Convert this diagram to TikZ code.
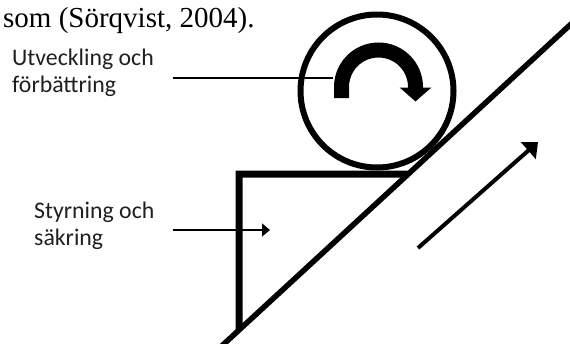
\documentclass[tikz,border=0pt]{standalone}
\usepackage{fontspec}
\setmainfont{Liberation Serif}
\newfontfamily\calibri{Carlito}
\usetikzlibrary{arrows.meta}
\begin{document}
\begin{tikzpicture}[x=1pt,y=-1pt,
  lbl/.style={anchor=base west, inner sep=0pt, font=\calibri\fontsize{23.8}{27}\selectfont, text=black!88},
  thinline/.style={line width=1.6pt},
  heavy/.style={line width=5.5pt},
]
\useasboundingbox (0,0) rectangle (570,343);
\clip (0,0) rectangle (570,343);
% title
\node[anchor=base west, inner sep=0pt, font=\fontsize{29}{34}\selectfont] (title) at (3,27) {som (Sörqvist, 2004).};
% labels
\node[lbl] (ut) at (12,65) {\begin{tabular}[t]{@{}l@{}}Utveckling och\\förbättring\end{tabular}};
\node[lbl] (sty) at (34,218) {\begin{tabular}[t]{@{}l@{}}Styrning och\\säkring\end{tabular}};
% slope line
\coordinate (d1) at (221.7,346);
\coordinate (d2) at (574,21.3);
% triangle (wedge)
\draw[line width=7pt, line join=miter]
  (intersection of d1--d2 and 239,0--239,343) -- (239,174) -- (intersection of d1--d2 and 0,174--570,174);
\draw[heavy] (d1) -- (d2);
% wheel
\node[draw, circle, line width=6pt, minimum size=153pt, inner sep=0pt] (wheel) at (377,91) {};
\coordinate (rollstart) at (341.5,98);
\draw[line width=15pt, -{Triangle[length=14pt,width=31pt]}]
  (rollstart) -- (341.5,87) arc[start angle=180, end angle=360, radius=37] -- ++(0,14.5);
% connectors from labels
\coordinate (utend) at (333,78);
\draw[thinline] ([xshift=19pt]ut.east |- utend) -- (utend);
\coordinate (stytip) at (270,230);
\draw[thinline, -{Triangle[length=8pt,width=13pt]}] ([xshift=18pt]sty.east |- stytip) -- (stytip);
% direction arrow
\coordinate (mA) at (418,248);
\coordinate (mB) at (538,142);
\draw[line width=4pt, -{Triangle[length=13pt,width=22pt]}] (mA) -- (mB);
\end{tikzpicture}
\end{document}
